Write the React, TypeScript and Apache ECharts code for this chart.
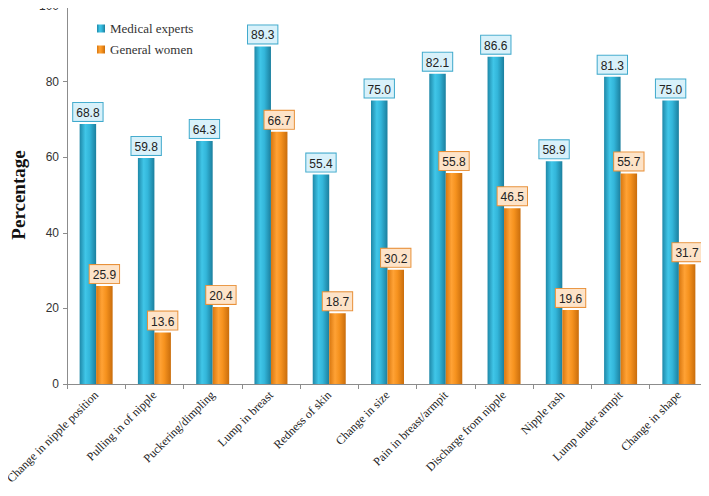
import React, { useEffect, useRef } from "react";
import * as echarts from "echarts";

const categories = [
  "Change in nipple position",
  "Pulling in of nipple",
  "Puckering/dimpling",
  "Lump in breast",
  "Redness of skin",
  "Change in size",
  "Pain in breast/armpit",
  "Discharge from nipple",
  "Nipple rash",
  "Lump under armpit",
  "Change in shape",
];
const medicalExperts = [68.8, 59.8, 64.3, 89.3, 55.4, 75.0, 82.1, 86.6, 58.9, 81.3, 75.0];
const generalWomen = [25.9, 13.6, 20.4, 66.7, 18.7, 30.2, 55.8, 46.5, 19.6, 55.7, 31.7];
const yTicks = [0, 20, 40, 60, 80, 100];

const blueGrad = new echarts.graphic.LinearGradient(0, 0, 1, 0, [
  { offset: 0, color: "#1e88a8" },
  { offset: 0.35, color: "#40c6e8" },
  { offset: 0.6, color: "#33b6da" },
  { offset: 1, color: "#1b7f9e" },
]);
const orangeGrad = new echarts.graphic.LinearGradient(0, 0, 1, 0, [
  { offset: 0, color: "#d9770f" },
  { offset: 0.35, color: "#ffa235" },
  { offset: 0.6, color: "#f6921e" },
  { offset: 1, color: "#c96d0c" },
]);

export default function App() {
  const ref = useRef<HTMLDivElement>(null);
  useEffect(() => {
    const chart = echarts.init(ref.current!, null, { renderer: "svg" });
    chart.setOption({
      animation: false,
      backgroundColor: "#ffffff",
      grid: { left: 67, right: 1, top: 5, bottom: 112, containLabel: false },
      legend: {
        orient: "vertical",
        left: 92,
        top: 17,
        itemWidth: 8,
        itemHeight: 8,
        itemGap: 8,
        icon: "rect",
        textStyle: { fontFamily: "Liberation Serif", fontSize: 13, color: "#333" },
        data: ["Medical experts", "General women"],
      },
      xAxis: {
        type: "category",
        data: categories,
        axisLine: { lineStyle: { color: "#8c8c8c" } },
        axisTick: { show: true, length: 5, lineStyle: { color: "#8c8c8c" } },
        axisLabel: {
          rotate: 45,
          interval: 0,
          fontFamily: "Liberation Serif",
          fontSize: 12,
          color: "#222",
          margin: 9,
        },
      },
      yAxis: {
        type: "value",
        min: 0,
        max: 100,
        interval: 20,
        name: "Percentage",
        nameLocation: "middle",
        nameGap: 32,
        nameTextStyle: {
          fontFamily: "Liberation Serif",
          fontWeight: "bold",
          fontSize: 19,
          color: "#111",
        },
        axisLine: { show: true, lineStyle: { color: "#8c8c8c" } },
        axisTick: { show: true, length: 4, lineStyle: { color: "#8c8c8c" } },
        splitLine: { show: false },
        axisLabel: {
          fontFamily: "Liberation Sans",
          fontSize: 12,
          color: "#333",
          margin: 8,
          customValues: yTicks,
        },
      },
      series: [
        {
          name: "Medical experts",
          type: "bar",
          data: medicalExperts,
          barWidth: 16.5,
          barGap: "0%",
          itemStyle: { color: blueGrad },
          label: {
            show: true,
            position: "top",
            distance: 3,
            formatter: (p: any) => p.value.toFixed(1),
            fontFamily: "Liberation Sans",
            fontSize: 12,
            color: "#222",
            backgroundColor: "#d8f1fa",
            borderColor: "#3fa9cc",
            borderWidth: 1,
            padding: [4, 3, 2, 3],
          },
        },
        {
          name: "General women",
          type: "bar",
          data: generalWomen,
          barWidth: 16.5,
          barGap: "0%",
          itemStyle: { color: orangeGrad },
          label: {
            show: true,
            position: "top",
            distance: 3,
            formatter: (p: any) => p.value.toFixed(1),
            fontFamily: "Liberation Sans",
            fontSize: 12,
            color: "#222",
            backgroundColor: "#fde3c8",
            borderColor: "#e8913a",
            borderWidth: 1,
            padding: [4, 3, 2, 3],
          },
        },
      ],
    });
    return () => chart.dispose();
  }, []);
  return <div ref={ref} style={{ width: 709, height: 496, margin: -8 }} />;
}
